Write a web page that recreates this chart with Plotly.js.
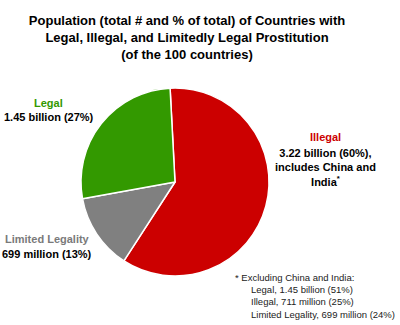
<!DOCTYPE html>
<html>
<head>
<meta charset="utf-8">
<script src="https://cdn.plot.ly/plotly-3.0.1.min.js"></script>
<style>html,body{margin:0;padding:0;background:#fff;}#chart{width:400px;height:325px;}</style>
</head>
<body>
<div id="chart"></div>
<script>
var categories = ["Illegal", "Limited Legality", "Legal"];
var populationBillions = [3.22, 0.699, 1.45];
var sliceColors = ["#CC0000", "#808080", "#339900"];
var labelLines = [
  ["3.22 billion (60%),", "includes China and", "India<sup>*</sup>"],
  ["699 million (13%)"],
  ["1.45 billion (27%)"]
];
var footnoteHead = "* Excluding China and India:";
var footnoteLines = ["Legal, 1.45 billion (51%)", "Illegal, 711 million (25%)", "Limited Legality, 699 million (24%)"];
var titleText = "Population (total # and % of total) of Countries with<br>Legal, Illegal, and Limitedly Legal Prostitution<br>(of the 100 countries)";

var W = 400, H = 325;
function px(x){return x / W;}
function py(y){return 1 - y / H;}
var FONT = "Liberation Sans, Arial, sans-serif";

var trace = {
  type: "pie",
  labels: categories,
  values: populationBillions,
  sort: false,
  direction: "clockwise",
  rotation: -3,
  textinfo: "none",
  hoverinfo: "label+percent",
  marker: {colors: sliceColors, line: {color: "#ffffff", width: 1.5}},
  domain: {x: [px(175 - 94), px(175 + 94)], y: [py(182 + 94), py(182 - 94)]},
  showlegend: false
};

var ann = [];
function add(text, x, y, color, size, bold, xanchor, align) {
  ann.push({
    text: bold ? "<b>" + text + "</b>" : text,
    xref: "paper", yref: "paper", x: px(x), y: py(y),
    xanchor: xanchor || "center", yanchor: "middle",
    align: align || "center", showarrow: false,
    font: {family: FONT, size: size, color: color}
  });
}
// category labels
add(categories[2], 48.5, 103, sliceColors[2], 11, true);
add(labelLines[2].join("<br>"), 48.5, 117, "#000", 11, true);
add(categories[1], 47, 239, "#7a7a7a", 11, true);
add(labelLines[1].join("<br>"), 47, 254, "#000", 11, true);
add(categories[0], 325, 137, sliceColors[0], 11, true);
add(labelLines[0].join("<br>"), 325, 167, "#000", 11, true);
// footnote
add(footnoteHead, 233, 277, "#222", 9.5, false, "left", "left");
add(footnoteLines.join("<br>"), 249, 301.5, "#222", 9.5, false, "left", "left");

var layout = {
  width: W, height: H,
  margin: {l: 0, r: 0, t: 0, b: 0},
  paper_bgcolor: "#fff",
  title: {
    text: "<b>" + titleText + "</b>",
    x: px(187), xanchor: "center",
    y: py(25), yanchor: "middle", yref: "paper",
    font: {family: FONT, size: 13, color: "#000"}
  },
  annotations: ann
};

Plotly.newPlot("chart", [trace], layout, {displayModeBar: false, staticPlot: true});
</script>
</body>
</html>
